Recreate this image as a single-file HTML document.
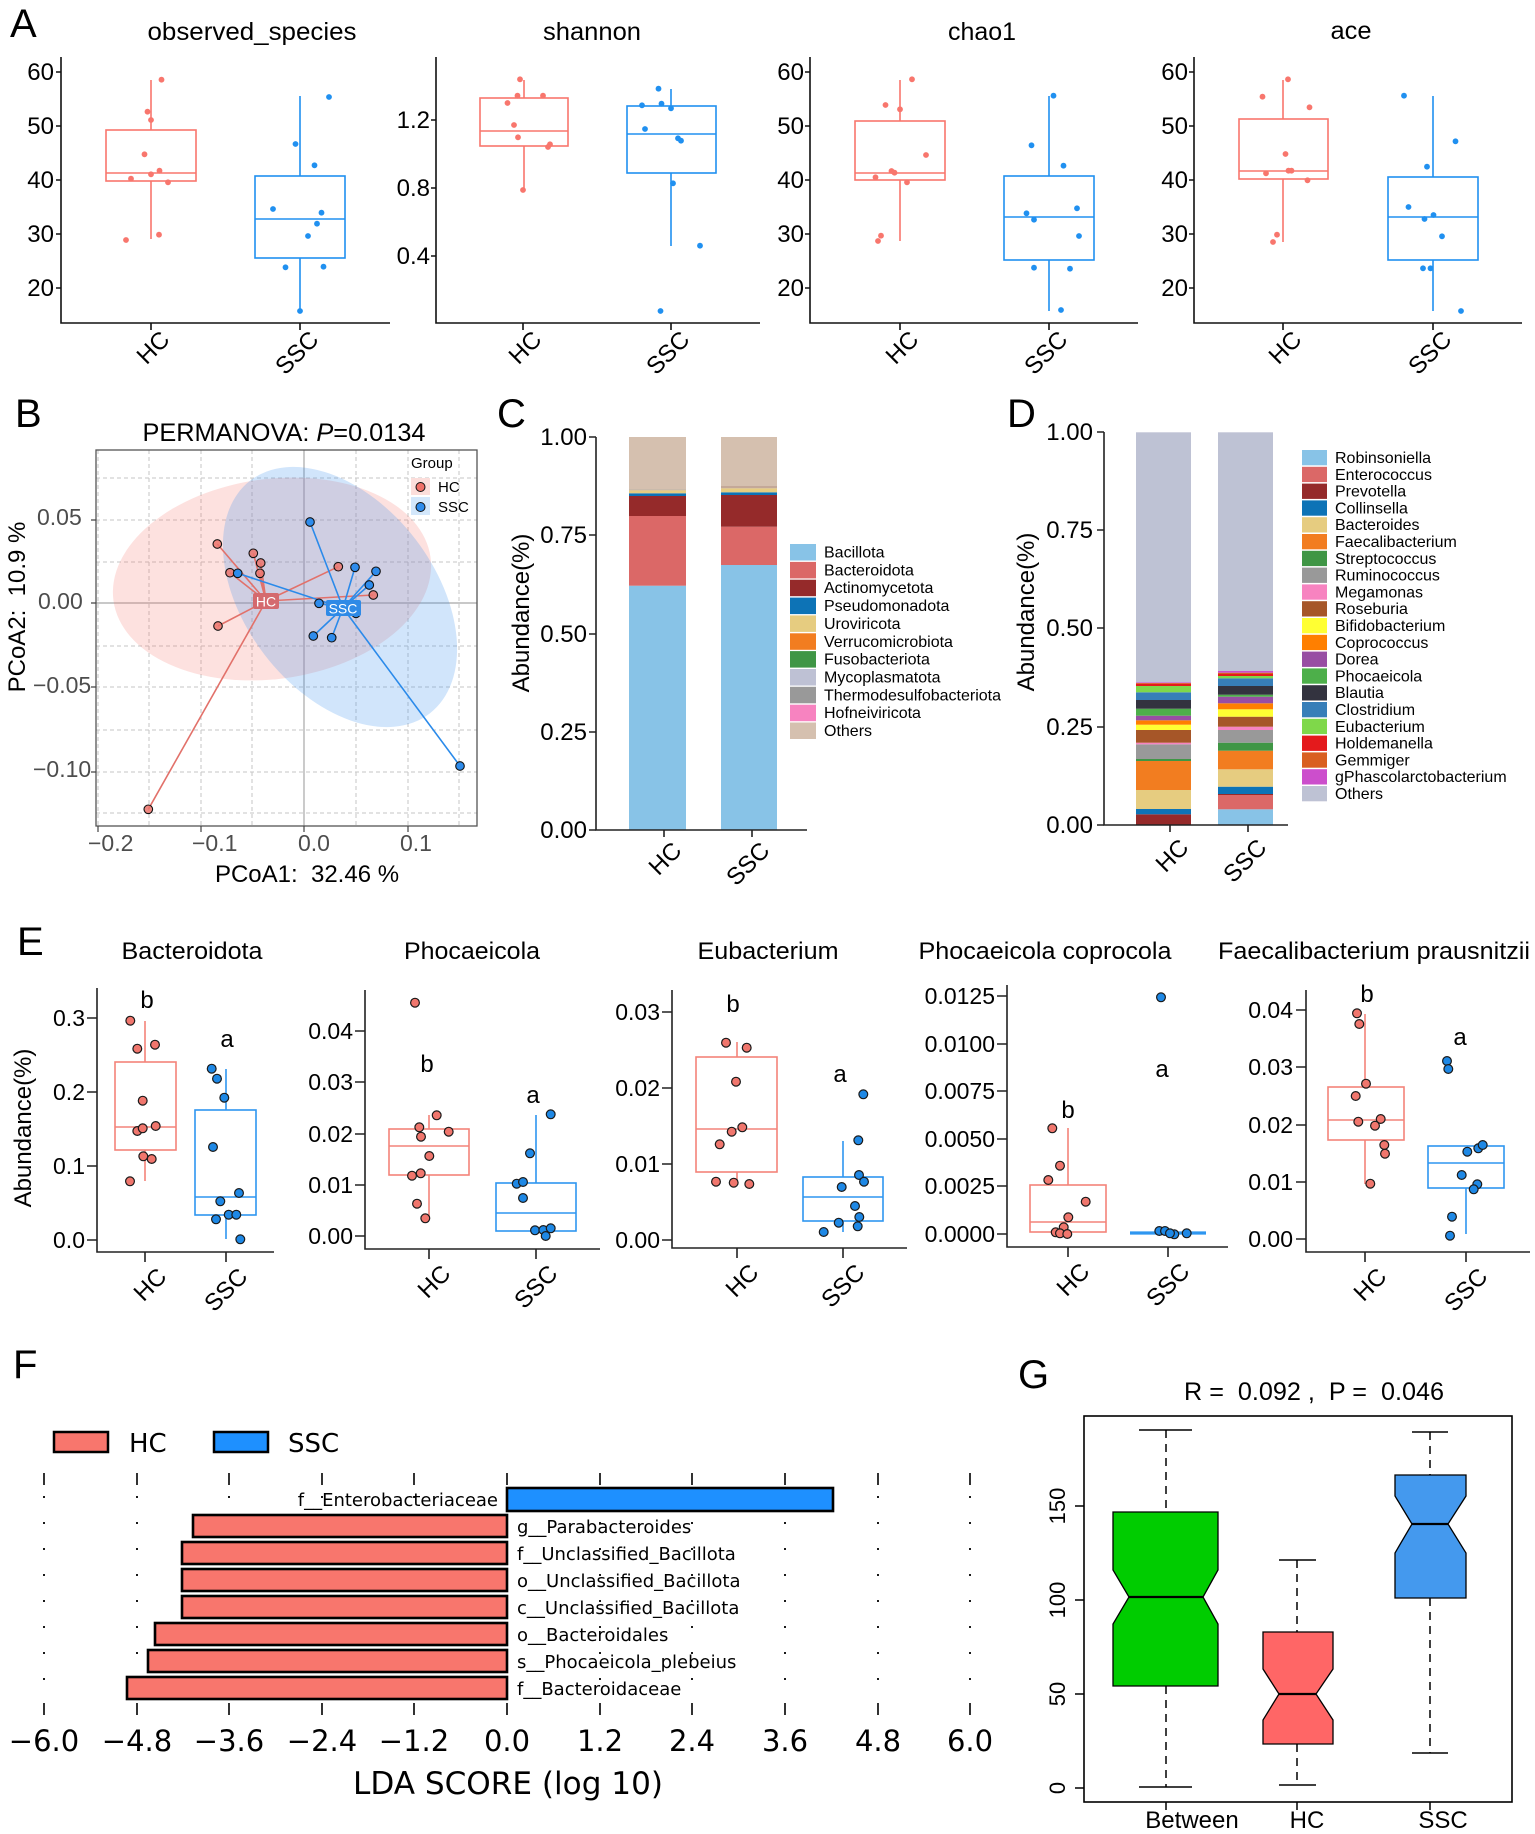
<!DOCTYPE html>
<html><head><meta charset="utf-8">
<style>
html,body{margin:0;padding:0;background:#fff;}
svg{display:block;}
text{font-family:"Liberation Sans",Arial,sans-serif;fill:#000;}
.dv{font-family:"DejaVu Sans",sans-serif;}
.pre{white-space:pre;}
</style></head><body>
<svg width="1535" height="1834" viewBox="0 0 1535 1834" xmlns="http://www.w3.org/2000/svg">
<rect width="1535" height="1834" fill="#fff"/>

<!-- ================= PANEL A ================= -->
<text x="10" y="37" font-size="40">A</text>
<g font-size="25" text-anchor="middle">
<text x="252" y="40" textLength="209" lengthAdjust="spacingAndGlyphs">observed_species</text>
<text x="592" y="40" textLength="98" lengthAdjust="spacingAndGlyphs">shannon</text>
<text x="982" y="40" textLength="68" lengthAdjust="spacingAndGlyphs">chao1</text>
<text x="1351" y="39" textLength="41" lengthAdjust="spacingAndGlyphs">ace</text>
</g>
<g stroke="#111" stroke-width="1.6" fill="none">
<path d="M61 57V323H390M436 57V323H760M810 57V323H1138M1194 57V323H1522"/>
<path d="M56 72H61M56 126H61M56 180H61M56 234H61M56 288H61"/>
<path d="M431 120H436M431 188H436M431 256H436"/>
<path d="M805 72H810M805 126H810M805 180H810M805 234H810M805 288H810"/>
<path d="M1189 72H1194M1189 126H1194M1189 180H1194M1189 234H1194M1189 288H1194"/>
<path d="M151 323V330M300 323V330M523 323V330M671 323V330M900 323V330M1049 323V330M1283 323V330M1433 323V330"/>
</g>
<g font-size="24" text-anchor="end">
<text x="54" y="80">60</text><text x="54" y="134">50</text><text x="54" y="188">40</text><text x="54" y="242">30</text><text x="54" y="296">20</text>
<text x="430" y="128">1.2</text><text x="430" y="196">0.8</text><text x="430" y="264">0.4</text>
<text x="804" y="80">60</text><text x="804" y="134">50</text><text x="804" y="188">40</text><text x="804" y="242">30</text><text x="804" y="296">20</text>
<text x="1188" y="80">60</text><text x="1188" y="134">50</text><text x="1188" y="188">40</text><text x="1188" y="242">30</text><text x="1188" y="296">20</text>
</g>
<g font-size="24" text-anchor="end">
<text transform="translate(171,341) rotate(-45)">HC</text>
<text transform="translate(320,341) rotate(-45)">SSC</text>
<text transform="translate(543,341) rotate(-45)">HC</text>
<text transform="translate(691,341) rotate(-45)">SSC</text>
<text transform="translate(920,341) rotate(-45)">HC</text>
<text transform="translate(1069,341) rotate(-45)">SSC</text>
<text transform="translate(1303,341) rotate(-45)">HC</text>
<text transform="translate(1453,341) rotate(-45)">SSC</text>
</g>
<!-- boxes A -->
<g fill="none" stroke-width="1.6">
<g stroke="#F8766D">
<rect x="106" y="130" width="90" height="51"/><path d="M106 173H196M151 80V130M151 181V239"/>
<rect x="480" y="98" width="88" height="48"/><path d="M480 131H568M524 80V98M524 146V190"/>
<rect x="855" y="121" width="90" height="59"/><path d="M855 173H945M900 80V121M900 180V241"/>
<rect x="1239" y="119" width="89" height="60"/><path d="M1239 171H1328M1283 80V119M1283 179V242"/>
</g>
<g stroke="#2090F0">
<rect x="255" y="176" width="90" height="82"/><path d="M255 219H345M300 96V176M300 258V311"/>
<rect x="627" y="106" width="89" height="67"/><path d="M627 134H716M671 89V106M671 173V246"/>
<rect x="1004" y="176" width="90" height="84"/><path d="M1004 217H1094M1049 96V176M1049 260V311"/>
<rect x="1388" y="177" width="90" height="83"/><path d="M1388 217H1478M1433 96V177M1433 260V311"/>
</g>
</g>
<g fill="#F8766D">
<circle cx="161.5" cy="79.7" r="2.9"/><circle cx="147.5" cy="111.7" r="2.9"/><circle cx="151" cy="120" r="2.9"/><circle cx="144.5" cy="154.3" r="2.9"/><circle cx="159.5" cy="170.7" r="2.9"/><circle cx="151" cy="174.3" r="2.9"/><circle cx="131" cy="178.7" r="2.9"/><circle cx="168" cy="182.3" r="2.9"/><circle cx="159" cy="234.7" r="2.9"/><circle cx="126" cy="240" r="2.9"/>
<circle cx="520" cy="79.3" r="2.9"/><circle cx="517.5" cy="95.7" r="2.9"/><circle cx="543" cy="95.7" r="2.9"/><circle cx="507.5" cy="103" r="2.9"/><circle cx="514" cy="125" r="2.9"/><circle cx="518" cy="137.3" r="2.9"/><circle cx="550" cy="144.3" r="2.9"/><circle cx="548" cy="147" r="2.9"/><circle cx="523" cy="190" r="2.9"/>
<circle cx="912" cy="79.3" r="2.9"/><circle cx="885.5" cy="105" r="2.9"/><circle cx="900" cy="109.3" r="2.9"/><circle cx="926" cy="155" r="2.9"/><circle cx="891.5" cy="171" r="2.9"/><circle cx="894.5" cy="172.7" r="2.9"/><circle cx="875.5" cy="177.3" r="2.9"/><circle cx="907" cy="182.3" r="2.9"/><circle cx="881" cy="235.7" r="2.9"/><circle cx="878" cy="241" r="2.9"/>
<circle cx="1288" cy="79.3" r="2.9"/><circle cx="1262.5" cy="96.7" r="2.9"/><circle cx="1309.5" cy="107.3" r="2.9"/><circle cx="1285.5" cy="154" r="2.9"/><circle cx="1266" cy="173.3" r="2.9"/><circle cx="1288.5" cy="170.7" r="2.9"/><circle cx="1291.5" cy="170.7" r="2.9"/><circle cx="1307.5" cy="180.3" r="2.9"/><circle cx="1277" cy="234.7" r="2.9"/><circle cx="1273" cy="242" r="2.9"/>
</g>
<g fill="#2090F0">
<circle cx="329" cy="97" r="2.9"/><circle cx="295.5" cy="144" r="2.9"/><circle cx="314.5" cy="165.3" r="2.9"/><circle cx="273" cy="209" r="2.9"/><circle cx="321.5" cy="212.7" r="2.9"/><circle cx="317" cy="223.7" r="2.9"/><circle cx="308" cy="236" r="2.9"/><circle cx="285.5" cy="267.3" r="2.9"/><circle cx="323.5" cy="266.7" r="2.9"/><circle cx="300" cy="311" r="2.9"/>
<circle cx="658.5" cy="88.7" r="2.9"/><circle cx="642" cy="105.3" r="2.9"/><circle cx="661.5" cy="103.7" r="2.9"/><circle cx="671" cy="108.3" r="2.9"/><circle cx="645" cy="129" r="2.9"/><circle cx="678" cy="138.3" r="2.9"/><circle cx="681" cy="140.7" r="2.9"/><circle cx="673" cy="183.3" r="2.9"/><circle cx="700" cy="245.7" r="2.9"/><circle cx="660.5" cy="311" r="2.9"/>
<circle cx="1053.5" cy="95.7" r="2.9"/><circle cx="1031.5" cy="145.3" r="2.9"/><circle cx="1063.5" cy="165.7" r="2.9"/><circle cx="1026.5" cy="213.3" r="2.9"/><circle cx="1034" cy="219.7" r="2.9"/><circle cx="1077" cy="208.3" r="2.9"/><circle cx="1079" cy="236" r="2.9"/><circle cx="1034" cy="267.7" r="2.9"/><circle cx="1070" cy="268.7" r="2.9"/><circle cx="1061" cy="310" r="2.9"/>
<circle cx="1404" cy="95.7" r="2.9"/><circle cx="1455.5" cy="141.3" r="2.9"/><circle cx="1427" cy="166.7" r="2.9"/><circle cx="1408.5" cy="207" r="2.9"/><circle cx="1433.5" cy="215" r="2.9"/><circle cx="1424.5" cy="219" r="2.9"/><circle cx="1442" cy="236.3" r="2.9"/><circle cx="1423" cy="268.3" r="2.9"/><circle cx="1430.5" cy="268.3" r="2.9"/><circle cx="1461" cy="311" r="2.9"/>
</g>

<!-- ================= PANEL B ================= -->
<text x="15" y="427" font-size="40">B</text>
<text x="284" y="441" text-anchor="middle" font-size="25" textLength="283" lengthAdjust="spacingAndGlyphs">PERMANOVA: <tspan font-style="italic">P</tspan>=0.0134</text>
<g stroke="#C6C6C6" stroke-width="1" stroke-dasharray="4,3" fill="none">
<path d="M98 450V826M149 450V826M201 450V826M252 450V826M356 450V826M408 450V826M459 450V826"/>
<path d="M96 478H477M96 520H477M96 562H477M96 646H477M96 687H477M96 730H477M96 772H477M96 813H477"/>
</g>
<path d="M304 450V826M96 603H477" stroke="#A8A8A8" stroke-width="1.2" fill="none"/>
<ellipse cx="272" cy="579" rx="160" ry="100" transform="rotate(-7.8 272 579)" fill="#F8766D" fill-opacity="0.22"/>
<ellipse cx="340" cy="597" rx="147" ry="95" transform="rotate(52.4 340 597)" fill="#3D94F0" fill-opacity="0.24"/>
<g stroke="#E2716A" stroke-width="1.6">
<line x1="266" y1="601" x2="217.3" y2="544"/><line x1="266" y1="601" x2="253.3" y2="553.3"/><line x1="266" y1="601" x2="260.7" y2="563"/><line x1="266" y1="601" x2="230" y2="572.7"/><line x1="266" y1="601" x2="260" y2="573.3"/><line x1="266" y1="601" x2="218" y2="626"/><line x1="266" y1="601" x2="338.3" y2="566.7"/><line x1="266" y1="601" x2="373.3" y2="595"/><line x1="266" y1="601" x2="148.3" y2="809.3"/>
</g>
<g stroke="#2A8AEA" stroke-width="1.6">
<line x1="343" y1="608" x2="310" y2="522"/><line x1="343" y1="608" x2="355" y2="567.3"/><line x1="343" y1="608" x2="376" y2="571.3"/><line x1="343" y1="608" x2="369.3" y2="585"/><line x1="343" y1="608" x2="319" y2="603.3"/><line x1="343" y1="608" x2="313.3" y2="636"/><line x1="343" y1="608" x2="331.7" y2="637.7"/><line x1="343" y1="608" x2="237.7" y2="573.3"/><line x1="343" y1="608" x2="460" y2="766"/><line x1="343" y1="608" x2="356" y2="613.3"/>
</g>
<g stroke="#111" stroke-width="1.1">
<g fill="#EC746C" fill-opacity="0.85">
<circle cx="217.3" cy="544" r="4.3"/><circle cx="253.3" cy="553.3" r="4.3"/><circle cx="260.7" cy="563" r="4.3"/><circle cx="230" cy="572.7" r="4.3"/><circle cx="260" cy="573.3" r="4.3"/><circle cx="218" cy="626" r="4.3"/><circle cx="338.3" cy="566.7" r="4.3"/><circle cx="373.3" cy="595" r="4.3"/><circle cx="148.3" cy="809.3" r="4.3"/>
</g>
<g fill="#2E8CEC">
<circle cx="310" cy="522" r="4.3"/><circle cx="355" cy="567.3" r="4.3"/><circle cx="376" cy="571.3" r="4.3"/><circle cx="369.3" cy="585" r="4.3"/><circle cx="319" cy="603.3" r="4.3"/><circle cx="313.3" cy="636" r="4.3"/><circle cx="331.7" cy="637.7" r="4.3"/><circle cx="237.7" cy="573.3" r="4.3"/><circle cx="460" cy="766" r="4.3"/><circle cx="356" cy="613.3" r="4.3"/>
</g>
</g>
<rect x="253" y="593" width="26" height="16" rx="2" fill="#D46A6E"/>
<text x="266" y="606.5" font-size="14" fill="#fff" text-anchor="middle" style="fill:#fff">HC</text>
<rect x="326" y="600" width="35" height="16" rx="2" fill="#2F8AE6"/>
<text x="343" y="613.5" font-size="14" text-anchor="middle" style="fill:#fff">SSC</text>
<rect x="96" y="450" width="381" height="376" fill="none" stroke="#555" stroke-width="1.3"/>
<path d="M98 826V832M201 826V832M304 826V832M408 826V832M91 520H96M91 603H96M91 687H96M91 772H96" stroke="#444" stroke-width="1.2"/>
<g font-size="23" style="fill:#4D4D4D">
<text x="88" y="851" style="fill:#4D4D4D">−0.2</text><text x="192" y="851" style="fill:#4D4D4D">−0.1</text><text x="298" y="851" style="fill:#4D4D4D">0.0</text><text x="400" y="851" style="fill:#4D4D4D">0.1</text>
<text x="37" y="525" style="fill:#4D4D4D">0.05</text><text x="38" y="609" style="fill:#4D4D4D">0.00</text><text x="33" y="693" style="fill:#4D4D4D">−0.05</text><text x="33" y="777" style="fill:#4D4D4D">−0.10</text>
</g>
<text class="pre" transform="translate(25,607) rotate(-90)" text-anchor="middle" font-size="24" xml:space="preserve">PCoA2:  10.9 %</text>
<text class="pre" x="307" y="882" text-anchor="middle" font-size="24" xml:space="preserve">PCoA1:  32.46 %</text>
<text x="411" y="468" font-size="15">Group</text>
<rect x="411" y="478" width="19" height="17" fill="#FCDEDB"/>
<circle cx="420.5" cy="487" r="4.5" fill="#F07068" stroke="#111" stroke-width="1"/>
<text x="438" y="492" font-size="15">HC</text>
<rect x="411" y="497" width="19" height="18" fill="#D3E7FB"/>
<circle cx="420.5" cy="507" r="4.5" fill="#2E8CEC" stroke="#111" stroke-width="1"/>
<text x="438" y="512" font-size="15">SSC</text>

<!-- ================= PANEL C ================= -->
<text x="497" y="427" font-size="40">C</text>
<g>
<rect x="629" y="585.7" width="57" height="244.3" fill="#88C3E7"/>
<rect x="629" y="516" width="57" height="69.7" fill="#DB6867"/>
<rect x="629" y="496" width="57" height="20" fill="#952A2A"/>
<rect x="629" y="493.3" width="57" height="2.7" fill="#0D73B6"/>
<rect x="629" y="490.3" width="57" height="3" fill="#E6CC80"/>
<rect x="629" y="489.3" width="57" height="1" fill="#B8A898"/>
<rect x="629" y="437" width="57" height="52.3" fill="#D5C0AF"/>
<rect x="721" y="565" width="56" height="265" fill="#88C3E7"/>
<rect x="721" y="526.7" width="56" height="38.3" fill="#DB6867"/>
<rect x="721" y="495" width="56" height="31.7" fill="#952A2A"/>
<rect x="721" y="492.3" width="56" height="2.7" fill="#0D73B6"/>
<rect x="721" y="488.3" width="56" height="4" fill="#E6CC80"/>
<rect x="721" y="486" width="56" height="2.3" fill="#C4A898"/>
<rect x="721" y="437" width="56" height="49" fill="#D5C0AF"/>
</g>
<g stroke="#222" stroke-width="1.6" fill="none">
<path d="M596 437V830H807"/>
<path d="M589 437H596M589 535H596M589 634H596M589 732H596M589 830H596M664 830V837M752 830V837"/>
</g>
<g font-size="24" text-anchor="end">
<text x="587" y="445">1.00</text><text x="587" y="543">0.75</text><text x="587" y="642">0.50</text><text x="587" y="740">0.25</text><text x="587" y="838">0.00</text>
<text transform="translate(683,852) rotate(-45)">HC</text>
<text transform="translate(771,852) rotate(-45)">SSC</text>
</g>
<text transform="translate(529,613) rotate(-90)" text-anchor="middle" font-size="24">Abundance(%)</text>
<g font-size="16">
<rect x="790" y="544" width="26" height="16.5" fill="#88C3E7"/><text x="824" y="557.5">Bacillota</text>
<rect x="790" y="561.9" width="26" height="16.5" fill="#DB6867"/><text x="824" y="575.4">Bacteroidota</text>
<rect x="790" y="579.7" width="26" height="16.5" fill="#952A2A"/><text x="824" y="593.2">Actinomycetota</text>
<rect x="790" y="597.6" width="26" height="16.5" fill="#0D73B6"/><text x="824" y="611.1">Pseudomonadota</text>
<rect x="790" y="615.4" width="26" height="16.5" fill="#E6CC80"/><text x="824" y="628.9">Uroviricota</text>
<rect x="790" y="633.3" width="26" height="16.5" fill="#F27D20"/><text x="824" y="646.8">Verrucomicrobiota</text>
<rect x="790" y="651.1" width="26" height="16.5" fill="#3F9645"/><text x="824" y="664.6">Fusobacteriota</text>
<rect x="790" y="669" width="26" height="16.5" fill="#BEC1D4"/><text x="824" y="682.5">Mycoplasmatota</text>
<rect x="790" y="686.8" width="26" height="16.5" fill="#999999"/><text x="824" y="700.3">Thermodesulfobacteriota</text>
<rect x="790" y="704.7" width="26" height="16.5" fill="#F783C0"/><text x="824" y="718.2">Hofneiviricota</text>
<rect x="790" y="722.5" width="26" height="16.5" fill="#D5C0AF"/><text x="824" y="736">Others</text>
</g>

<!-- ================= PANEL D ================= -->
<text x="1007" y="427" font-size="40">D</text>
<g>
<rect x="1136" y="814.3" width="55" height="10.7" fill="#952A2A"/>
<rect x="1136" y="809" width="55" height="5.3" fill="#0D73B6"/>
<rect x="1136" y="790" width="55" height="19" fill="#E6CC80"/>
<rect x="1136" y="761" width="55" height="29" fill="#F27D20"/>
<rect x="1136" y="759" width="55" height="2" fill="#3F9645"/>
<rect x="1136" y="744.3" width="55" height="14.7" fill="#999999"/>
<rect x="1136" y="742.7" width="55" height="1.6" fill="#F783C0"/>
<rect x="1136" y="730" width="55" height="12.7" fill="#A65628"/>
<rect x="1136" y="724.7" width="55" height="5.3" fill="#FFFF33"/>
<rect x="1136" y="720.3" width="55" height="4.4" fill="#FF7F00"/>
<rect x="1136" y="715.7" width="55" height="4.6" fill="#984EA3"/>
<rect x="1136" y="708.7" width="55" height="7" fill="#4DAF4A"/>
<rect x="1136" y="700" width="55" height="8.7" fill="#33333F"/>
<rect x="1136" y="692.3" width="55" height="7.7" fill="#377EB8"/>
<rect x="1136" y="686" width="55" height="6.3" fill="#7FD84A"/>
<rect x="1136" y="683.7" width="55" height="2.3" fill="#E41A1C"/>
<rect x="1136" y="683" width="55" height="0.7" fill="#D95F20"/>
<rect x="1136" y="682.3" width="55" height="0.7" fill="#CC4ECC"/>
<rect x="1136" y="432.3" width="55" height="250" fill="#BEC2D4"/>

<rect x="1218" y="809.3" width="55" height="15.7" fill="#88C3E7"/>
<rect x="1218" y="795" width="55" height="14.3" fill="#DB6867"/>
<rect x="1218" y="794" width="55" height="1" fill="#952A2A"/>
<rect x="1218" y="786.7" width="55" height="7.3" fill="#0D73B6"/>
<rect x="1218" y="769.3" width="55" height="17.4" fill="#E6CC80"/>
<rect x="1218" y="750.7" width="55" height="18.6" fill="#F27D20"/>
<rect x="1218" y="742.7" width="55" height="8" fill="#3F9645"/>
<rect x="1218" y="730" width="55" height="12.7" fill="#999999"/>
<rect x="1218" y="726.7" width="55" height="3.3" fill="#F783C0"/>
<rect x="1218" y="716.7" width="55" height="10" fill="#A65628"/>
<rect x="1218" y="709.3" width="55" height="7.4" fill="#FFFF33"/>
<rect x="1218" y="703.3" width="55" height="6" fill="#FF7F00"/>
<rect x="1218" y="696.7" width="55" height="6.6" fill="#984EA3"/>
<rect x="1218" y="694.7" width="55" height="2" fill="#4DAF4A"/>
<rect x="1218" y="686" width="55" height="8.7" fill="#33333F"/>
<rect x="1218" y="678.3" width="55" height="7.7" fill="#377EB8"/>
<rect x="1218" y="676" width="55" height="2.3" fill="#7FD84A"/>
<rect x="1218" y="674" width="55" height="2" fill="#E41A1C"/>
<rect x="1218" y="672.7" width="55" height="1.3" fill="#D95F20"/>
<rect x="1218" y="671" width="55" height="1.7" fill="#CC4ECC"/>
<rect x="1218" y="432.3" width="55" height="238.7" fill="#BEC2D4"/>
</g>
<g stroke="#222" stroke-width="1.6" fill="none">
<path d="M1104 432V825H1288"/>
<path d="M1097 432H1104M1097 530H1104M1097 628H1104M1097 727H1104M1097 825H1104M1170 825V832M1248 825V832"/>
</g>
<g font-size="24" text-anchor="end">
<text x="1093" y="440">1.00</text><text x="1093" y="538">0.75</text><text x="1093" y="636">0.50</text><text x="1093" y="735">0.25</text><text x="1093" y="833">0.00</text>
<text transform="translate(1190,849) rotate(-45)">HC</text>
<text transform="translate(1268,849) rotate(-45)">SSC</text>
</g>
<text transform="translate(1034,612) rotate(-90)" text-anchor="middle" font-size="24">Abundance(%)</text>
<g font-size="16">
<rect x="1302" y="450" width="25" height="15.3" fill="#88C3E7"/><text x="1335" y="463">Robinsoniella</text>
<rect x="1302" y="466.8" width="25" height="15.3" fill="#DB6867"/><text x="1335" y="479.8">Enterococcus</text>
<rect x="1302" y="483.6" width="25" height="15.3" fill="#952A2A"/><text x="1335" y="496.6">Prevotella</text>
<rect x="1302" y="500.4" width="25" height="15.3" fill="#0D73B6"/><text x="1335" y="513.4">Collinsella</text>
<rect x="1302" y="517.2" width="25" height="15.3" fill="#E6CC80"/><text x="1335" y="530.2">Bacteroides</text>
<rect x="1302" y="534" width="25" height="15.3" fill="#F27D20"/><text x="1335" y="547">Faecalibacterium</text>
<rect x="1302" y="550.8" width="25" height="15.3" fill="#3F9645"/><text x="1335" y="563.8">Streptococcus</text>
<rect x="1302" y="567.6" width="25" height="15.3" fill="#999999"/><text x="1335" y="580.6">Ruminococcus</text>
<rect x="1302" y="584.4" width="25" height="15.3" fill="#F783C0"/><text x="1335" y="597.4">Megamonas</text>
<rect x="1302" y="601.2" width="25" height="15.3" fill="#A65628"/><text x="1335" y="614.2">Roseburia</text>
<rect x="1302" y="618" width="25" height="15.3" fill="#FFFF33"/><text x="1335" y="631">Bifidobacterium</text>
<rect x="1302" y="634.8" width="25" height="15.3" fill="#FF7F00"/><text x="1335" y="647.8">Coprococcus</text>
<rect x="1302" y="651.6" width="25" height="15.3" fill="#984EA3"/><text x="1335" y="664.6">Dorea</text>
<rect x="1302" y="668.4" width="25" height="15.3" fill="#4DAF4A"/><text x="1335" y="681.4">Phocaeicola</text>
<rect x="1302" y="685.2" width="25" height="15.3" fill="#33333F"/><text x="1335" y="698.2">Blautia</text>
<rect x="1302" y="702" width="25" height="15.3" fill="#377EB8"/><text x="1335" y="715">Clostridium</text>
<rect x="1302" y="718.8" width="25" height="15.3" fill="#7FD84A"/><text x="1335" y="731.8">Eubacterium</text>
<rect x="1302" y="735.6" width="25" height="15.3" fill="#E41A1C"/><text x="1335" y="748.6">Holdemanella</text>
<rect x="1302" y="752.4" width="25" height="15.3" fill="#D95F20"/><text x="1335" y="765.4">Gemmiger</text>
<rect x="1302" y="769.2" width="25" height="15.3" fill="#CC4ECC"/><text x="1335" y="782.2">gPhascolarctobacterium</text>
<rect x="1302" y="786" width="25" height="15.3" fill="#BEC2D4"/><text x="1335" y="799">Others</text>
</g>

<!-- ================= PANEL E ================= -->
<text x="17" y="955" font-size="40">E</text>
<g font-size="24" text-anchor="middle">
<text x="192" y="959" textLength="141" lengthAdjust="spacingAndGlyphs">Bacteroidota</text>
<text x="472" y="959" textLength="136" lengthAdjust="spacingAndGlyphs">Phocaeicola</text>
<text x="768" y="959" textLength="141" lengthAdjust="spacingAndGlyphs">Eubacterium</text>
<text x="1045" y="959" textLength="253" lengthAdjust="spacingAndGlyphs">Phocaeicola coprocola</text>
<text x="1374" y="959" textLength="312" lengthAdjust="spacingAndGlyphs">Faecalibacterium prausnitzii</text>
</g>
<text transform="translate(31,1128) rotate(-90)" text-anchor="middle" font-size="24">Abundance(%)</text>
<g stroke="#222" stroke-width="1.6" fill="none">
<path d="M97 988V1252H274M87 1018H97M87 1092H97M87 1166H97M87 1240H97M145 1252V1262M226 1252V1262"/>
<path d="M365 990V1249H600M355 1031H365M355 1082H365M355 1134H365M355 1185H365M355 1236H365M429 1249V1259M536 1249V1259"/>
<path d="M672 990V1248H907M662 1012H672M662 1088H672M662 1164H672M662 1240H672M737 1248V1258M843 1248V1258"/>
<path d="M1007 985V1247H1228M997 996H1007M997 1044H1007M997 1091H1007M997 1139H1007M997 1186H1007M997 1234H1007M1068 1247V1257M1168 1247V1257"/>
<path d="M1306 990V1252H1530M1296 1010H1306M1296 1067H1306M1296 1125H1306M1296 1182H1306M1296 1239H1306M1365 1252V1262M1466 1252V1262"/>
</g>
<g font-size="23" text-anchor="end">
<text x="85" y="1026">0.3</text><text x="85" y="1100">0.2</text><text x="85" y="1174">0.1</text><text x="85" y="1248">0.0</text>
<text x="353" y="1039">0.04</text><text x="353" y="1090">0.03</text><text x="353" y="1142">0.02</text><text x="353" y="1193">0.01</text><text x="353" y="1244">0.00</text>
<text x="660" y="1020">0.03</text><text x="660" y="1096">0.02</text><text x="660" y="1172">0.01</text><text x="660" y="1248">0.00</text>
<text x="995" y="1004">0.0125</text><text x="995" y="1052">0.0100</text><text x="995" y="1099">0.0075</text><text x="995" y="1147">0.0050</text><text x="995" y="1194">0.0025</text><text x="995" y="1242">0.0000</text>
<text x="1293" y="1018">0.04</text><text x="1293" y="1075">0.03</text><text x="1293" y="1133">0.02</text><text x="1293" y="1190">0.01</text><text x="1293" y="1247">0.00</text>
</g>
<g font-size="24" text-anchor="end">
<text transform="translate(168,1278) rotate(-45)">HC</text><text transform="translate(249,1278) rotate(-45)">SSC</text>
<text transform="translate(452,1275) rotate(-45)">HC</text><text transform="translate(559,1275) rotate(-45)">SSC</text>
<text transform="translate(760,1274) rotate(-45)">HC</text><text transform="translate(866,1274) rotate(-45)">SSC</text>
<text transform="translate(1091,1273) rotate(-45)">HC</text><text transform="translate(1191,1273) rotate(-45)">SSC</text>
<text transform="translate(1388,1278) rotate(-45)">HC</text><text transform="translate(1489,1278) rotate(-45)">SSC</text>
</g>
<g font-size="24" text-anchor="middle">
<text x="147" y="1008">b</text><text x="227" y="1047">a</text>
<text x="427" y="1072">b</text><text x="533" y="1103">a</text>
<text x="733" y="1012">b</text><text x="840" y="1082">a</text>
<text x="1068" y="1118">b</text><text x="1162" y="1077">a</text>
<text x="1367" y="1002">b</text><text x="1460" y="1045">a</text>
</g>
<g fill="none" stroke-width="1.6">
<g stroke="#F4837A">
<rect x="115" y="1062" width="61" height="88"/><path d="M115 1127H176M145 1021V1062M145 1150V1181"/>
<rect x="389" y="1129" width="80" height="46"/><path d="M389 1146H469M429 1115V1129M429 1175V1218"/>
<rect x="696" y="1057" width="81" height="115"/><path d="M696 1129H777M737 1042V1057M737 1172V1180"/>
<rect x="1030" y="1185" width="76" height="47"/><path d="M1030 1222H1106M1068 1128V1185"/>
<rect x="1328" y="1087" width="76" height="53"/><path d="M1328 1120H1404M1365 1014V1087M1365 1140V1184"/>
</g>
<g stroke="#2E96F0">
<rect x="195" y="1110" width="61" height="105"/><path d="M195 1197H256M226 1069V1110M226 1215V1239"/>
<rect x="496" y="1183" width="80" height="48"/><path d="M496 1213H576M536 1115V1183"/>
<rect x="803" y="1177" width="80" height="44"/><path d="M803 1197H883M843 1141V1177M843 1221V1232"/>
<path d="M1130 1233H1206" stroke-width="3.2"/>
<rect x="1428" y="1146" width="76" height="42"/><path d="M1428 1163H1504M1466 1188V1234"/>
</g>
</g>
<g stroke="#1a1a1a" stroke-width="1.2">
<g fill="#F0766D">
<circle cx="130.3" cy="1020.7" r="4.4"/><circle cx="137.3" cy="1048.7" r="4.4"/><circle cx="155" cy="1044.7" r="4.4"/><circle cx="142.7" cy="1100.7" r="4.4"/><circle cx="137.3" cy="1131" r="4.4"/><circle cx="142.7" cy="1128.3" r="4.4"/><circle cx="155.7" cy="1126" r="4.4"/><circle cx="143.3" cy="1156.3" r="4.4"/><circle cx="151.7" cy="1159" r="4.4"/><circle cx="130" cy="1181.3" r="4.4"/>
<circle cx="415" cy="1002.7" r="4.4"/><circle cx="436.7" cy="1115.3" r="4.4"/><circle cx="419.3" cy="1127.3" r="4.4"/><circle cx="448.7" cy="1131.7" r="4.4"/><circle cx="421" cy="1136.7" r="4.4"/><circle cx="429.3" cy="1156" r="4.4"/><circle cx="412" cy="1175.7" r="4.4"/><circle cx="420.7" cy="1173.3" r="4.4"/><circle cx="417" cy="1203.7" r="4.4"/><circle cx="425.3" cy="1218.3" r="4.4"/>
<circle cx="726" cy="1042.7" r="4.4"/><circle cx="746.7" cy="1047.7" r="4.4"/><circle cx="736" cy="1081.7" r="4.4"/><circle cx="742.3" cy="1127.3" r="4.4"/><circle cx="731.7" cy="1131.7" r="4.4"/><circle cx="719.7" cy="1144.3" r="4.4"/><circle cx="716" cy="1181.7" r="4.4"/><circle cx="733.7" cy="1182.7" r="4.4"/><circle cx="749.3" cy="1184" r="4.4"/>
<circle cx="1052.3" cy="1128.3" r="4.4"/><circle cx="1060" cy="1165.7" r="4.4"/><circle cx="1048.3" cy="1180" r="4.4"/><circle cx="1085.7" cy="1201.7" r="4.4"/><circle cx="1068.3" cy="1217.3" r="4.4"/><circle cx="1063.7" cy="1227.3" r="4.4"/><circle cx="1055.7" cy="1232.3" r="4.4"/><circle cx="1060" cy="1233.3" r="4.4"/><circle cx="1067.3" cy="1234" r="4.4"/>
<circle cx="1357" cy="1013.3" r="4.4"/><circle cx="1359.3" cy="1024" r="4.4"/><circle cx="1366" cy="1083.7" r="4.4"/><circle cx="1355.7" cy="1096" r="4.4"/><circle cx="1358.3" cy="1121.7" r="4.4"/><circle cx="1380.7" cy="1119" r="4.4"/><circle cx="1375" cy="1125.7" r="4.4"/><circle cx="1384.3" cy="1145" r="4.4"/><circle cx="1385" cy="1153.7" r="4.4"/><circle cx="1370.3" cy="1183.7" r="4.4"/>
</g>
<g fill="#1E88E5">
<circle cx="211.7" cy="1068.7" r="4.4"/><circle cx="217" cy="1078.7" r="4.4"/><circle cx="224.3" cy="1097.7" r="4.4"/><circle cx="213" cy="1147" r="4.4"/><circle cx="239" cy="1193" r="4.4"/><circle cx="220.3" cy="1201.3" r="4.4"/><circle cx="216" cy="1219.3" r="4.4"/><circle cx="228.7" cy="1214.7" r="4.4"/><circle cx="236.3" cy="1214.7" r="4.4"/><circle cx="240.3" cy="1239.3" r="4.4"/>
<circle cx="550.7" cy="1114.3" r="4.4"/><circle cx="530" cy="1153.3" r="4.4"/><circle cx="516.7" cy="1183.7" r="4.4"/><circle cx="523" cy="1182" r="4.4"/><circle cx="523" cy="1198" r="4.4"/><circle cx="535" cy="1230.3" r="4.4"/><circle cx="543.3" cy="1230" r="4.4"/><circle cx="550.7" cy="1228.3" r="4.4"/><circle cx="545.7" cy="1236" r="4.4"/>
<circle cx="863.3" cy="1094.3" r="4.4"/><circle cx="858.3" cy="1140.3" r="4.4"/><circle cx="859" cy="1175" r="4.4"/><circle cx="864" cy="1181.7" r="4.4"/><circle cx="841.7" cy="1187" r="4.4"/><circle cx="855" cy="1206" r="4.4"/><circle cx="859.3" cy="1217" r="4.4"/><circle cx="857.7" cy="1226.3" r="4.4"/><circle cx="838.7" cy="1222.7" r="4.4"/><circle cx="823.7" cy="1232" r="4.4"/>
<circle cx="1161" cy="997.3" r="4.4"/><circle cx="1159.3" cy="1231" r="4.4"/><circle cx="1165" cy="1231" r="4.4"/><circle cx="1174.3" cy="1234.3" r="4.4"/><circle cx="1186.7" cy="1233.3" r="4.4"/><circle cx="1170" cy="1233.3" r="4.4"/>
<circle cx="1447" cy="1061" r="4.4"/><circle cx="1448.3" cy="1069" r="4.4"/><circle cx="1467.3" cy="1151.7" r="4.4"/><circle cx="1478.3" cy="1148.3" r="4.4"/><circle cx="1482.7" cy="1145" r="4.4"/><circle cx="1461.7" cy="1175" r="4.4"/><circle cx="1477.3" cy="1184.3" r="4.4"/><circle cx="1473.7" cy="1189.3" r="4.4"/><circle cx="1452" cy="1216.7" r="4.4"/><circle cx="1450" cy="1235.7" r="4.4"/>
</g>
</g>

<!-- ================= PANEL F ================= -->
<text x="13" y="1378" font-size="40">F</text>
<rect x="54" y="1432" width="54" height="20" fill="#F8766D" stroke="#000" stroke-width="2.5"/>
<text class="dv" x="129" y="1452" font-size="26">HC</text>
<rect x="214" y="1432" width="54" height="20" fill="#1E90FF" stroke="#000" stroke-width="2.5"/>
<text class="dv" x="288" y="1452" font-size="26">SSC</text>
<g stroke="#000" stroke-width="1.6" fill="none">
<path d="M44 1473V1485M137 1473V1485M229 1473V1485M322 1473V1485M414 1473V1485M507 1473V1485M600 1473V1485M692 1473V1485M785 1473V1485M878 1473V1485M970 1473V1485"/>
<path d="M44 1703V1715M137 1703V1715M229 1703V1715M322 1703V1715M414 1703V1715M507 1703V1715M600 1703V1715M692 1703V1715M785 1703V1715M878 1703V1715M970 1703V1715"/>
<path d="M44 1496V1700M137 1496V1700M229 1496V1700M322 1496V1700M414 1496V1700M507 1496V1700M600 1496V1700M692 1496V1700M785 1496V1700M878 1496V1700M970 1496V1700" stroke-dasharray="2,24" stroke-width="1.8"/>
</g>
<g stroke="#000" stroke-width="2.6">
<rect x="507" y="1488" width="326" height="23" fill="#1E90FF"/>
<rect x="193" y="1515" width="314" height="22" fill="#F8766D"/>
<rect x="182" y="1542" width="325" height="22" fill="#F8766D"/>
<rect x="182" y="1569" width="325" height="22" fill="#F8766D"/>
<rect x="182" y="1596" width="325" height="22" fill="#F8766D"/>
<rect x="155" y="1623" width="352" height="22" fill="#F8766D"/>
<rect x="148" y="1650" width="359" height="22" fill="#F8766D"/>
<rect x="127" y="1677" width="380" height="22" fill="#F8766D"/>
</g>
<g class="dv" font-size="18">
<text class="dv" x="498" y="1506" text-anchor="end">f__Enterobacteriaceae</text>
<text class="dv" x="517" y="1533">g__Parabacteroides</text>
<text class="dv" x="517" y="1560">f__Unclassified_Bacillota</text>
<text class="dv" x="517" y="1587">o__Unclassified_Bacillota</text>
<text class="dv" x="517" y="1614">c__Unclassified_Bacillota</text>
<text class="dv" x="517" y="1641">o__Bacteroidales</text>
<text class="dv" x="517" y="1668">s__Phocaeicola_plebeius</text>
<text class="dv" x="517" y="1695">f__Bacteroidaceae</text>
</g>
<g font-size="29" text-anchor="middle">
<text class="dv" x="44" y="1751">−6.0</text><text class="dv" x="137" y="1751">−4.8</text><text class="dv" x="229" y="1751">−3.6</text><text class="dv" x="322" y="1751">−2.4</text><text class="dv" x="414" y="1751">−1.2</text><text class="dv" x="507" y="1751">0.0</text><text class="dv" x="600" y="1751">1.2</text><text class="dv" x="692" y="1751">2.4</text><text class="dv" x="785" y="1751">3.6</text><text class="dv" x="878" y="1751">4.8</text><text class="dv" x="970" y="1751">6.0</text>
</g>
<text class="dv" x="508" y="1794" text-anchor="middle" font-size="31" textLength="310" lengthAdjust="spacingAndGlyphs">LDA SCORE (log 10)</text>

<!-- ================= PANEL G ================= -->
<text x="1018" y="1388" font-size="40">G</text>
<text class="pre" x="1314" y="1400" text-anchor="middle" font-size="25" textLength="260" lengthAdjust="spacingAndGlyphs" xml:space="preserve">R =  0.092 ,  P =  0.046</text>
<g stroke="#000" stroke-width="1.5" fill="none" stroke-dasharray="8,6">
<path d="M1166 1430V1512M1166 1686V1787M1297 1560V1632M1297 1744V1785M1430 1432V1475M1430 1598V1753"/>
</g>
<g stroke="#000" stroke-width="1.5" fill="none">
<path d="M1139 1430H1192M1139 1787H1192M1279 1560H1316M1279 1785H1316M1412 1432H1448M1412 1753H1448"/>
</g>
<g stroke="#000" stroke-width="1.3">
<polygon points="1113,1512 1218,1512 1218,1570 1203,1597 1218,1624 1218,1686 1113,1686 1113,1624 1129,1597 1113,1570" fill="#00CC00"/>
<polygon points="1263,1632 1333,1632 1333,1669 1316,1694 1333,1720 1333,1744 1263,1744 1263,1720 1279,1694 1263,1669" fill="#FF6666"/>
<polygon points="1395,1475 1466,1475 1466,1496 1448,1524 1466,1553 1466,1598 1395,1598 1395,1553 1412,1524 1395,1496" fill="#4499EE"/>
</g>
<path d="M1129 1597H1203M1279 1694H1316M1412 1524H1448" stroke="#000" stroke-width="2.2"/>
<rect x="1084" y="1416" width="428" height="386" fill="none" stroke="#000" stroke-width="1.6"/>
<path d="M1075 1788H1084M1075 1694H1084M1075 1600H1084M1075 1506H1084M1166 1802V1810M1297 1802V1810M1430 1802V1810" stroke="#000" stroke-width="1.5"/>
<g font-size="22" text-anchor="middle">
<text transform="translate(1065,1788) rotate(-90)">0</text>
<text transform="translate(1065,1694) rotate(-90)">50</text>
<text transform="translate(1065,1600) rotate(-90)">100</text>
<text transform="translate(1065,1506) rotate(-90)">150</text>
</g>
<g font-size="24" text-anchor="middle">
<text x="1192" y="1828">Between</text>
<text x="1307" y="1828">HC</text>
<text x="1443" y="1828">SSC</text>
</g>
</svg>
</body></html>
